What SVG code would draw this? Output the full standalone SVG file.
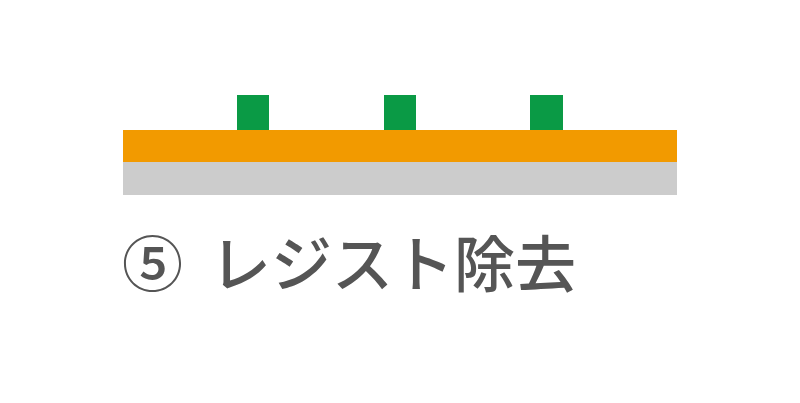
<svg xmlns="http://www.w3.org/2000/svg" width="800" height="403" viewBox="0 0 800 403">
<style>
.resist{fill:#0a9a45}
.label{font-family:"Noto Sans CJK JP","Noto Sans",sans-serif;font-size:61px;font-weight:500;fill:#555555}
</style>
<rect width="800" height="403" fill="#ffffff"/>
<g id="substrate"><rect x="123" y="162" width="554" height="33" fill="#cccccc"/></g>
<g id="film"><rect x="123" y="130" width="554" height="32" fill="#f29a00"/></g>
<g id="resist1"><rect class="resist" x="237" y="95" width="32" height="35"/></g>
<g id="resist2"><rect class="resist" x="384" y="95" width="32" height="35"/></g>
<g id="resist3"><rect class="resist" x="530" y="95" width="33" height="35"/></g>
<g id="title"><text class="label" x="122" y="287">⑤<tspan x="210">レジスト除去</tspan></text></g>
</svg>
